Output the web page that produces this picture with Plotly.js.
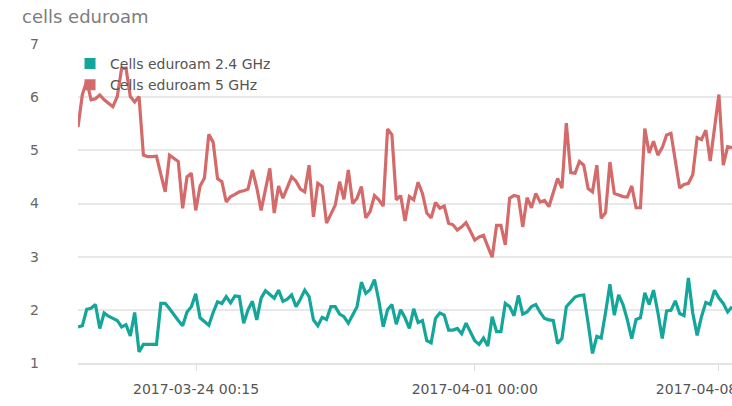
<!DOCTYPE html>
<html>
<head>
<meta charset="utf-8">
<script src="https://cdn.plot.ly/plotly-3.0.1.min.js"></script>
<style>html,body{margin:0;padding:0;background:#fff;}#chart{width:732px;height:406px;}</style>
</head>
<body>
<div id="chart"></div>
<script>
// Series: 3-hourly samples starting 2017-03-20 15:00
const seriesStart = '2017-03-20T15:00:00Z';
const stepHours = 3;
const seriesNames = ['Cells eduroam 2.4 GHz', 'Cells eduroam 5 GHz'];
const seriesColors = ['#14a69b', '#d46a6a'];

const cells24 = [
1.68,1.70,2.01,2.03,2.10,1.65,1.94,1.88,1.84,1.80,
1.68,1.72,1.51,1.95,1.21,1.35,1.35,1.35,1.35,2.12,
2.12,2.02,1.90,1.80,1.70,1.96,2.06,2.30,1.85,1.78,
1.71,1.95,2.15,2.12,2.25,2.13,2.26,2.25,1.75,2.00,
2.16,1.81,2.22,2.36,2.28,2.22,2.37,2.16,2.20,2.28,
2.06,2.20,2.37,2.25,1.81,1.70,1.86,1.82,2.06,2.06,
1.92,1.87,1.75,1.92,2.06,2.52,2.31,2.38,2.57,2.17,
1.68,2.00,2.10,1.73,2.00,1.85,1.65,2.02,1.76,1.80,
1.42,1.38,1.84,1.94,1.90,1.62,1.62,1.65,1.55,1.75,
1.59,1.42,1.35,1.47,1.32,1.87,1.59,1.59,2.12,2.06,
1.89,2.27,1.92,1.96,2.06,2.10,1.95,1.84,1.81,1.80,
1.37,1.46,2.06,2.16,2.24,2.27,2.28,1.75,1.18,1.50,
1.47,1.95,2.48,1.90,2.28,2.10,1.81,1.46,1.82,1.85,
2.32,2.10,2.37,1.95,1.46,1.98,1.99,2.17,1.93,1.89,
2.60,1.94,1.52,1.87,2.14,2.10,2.37,2.22,2.12,1.96,
2.06
];

const cells5 = [
5.44,6.05,6.30,5.95,5.97,6.04,5.95,5.88,5.82,6.01,
6.54,6.55,6.01,5.91,6.01,4.91,4.88,4.88,4.89,4.55,
4.22,4.91,4.85,4.79,3.91,4.50,4.57,3.87,4.33,4.48,
5.30,5.15,4.47,4.41,4.03,4.13,4.17,4.22,4.24,4.27,
4.63,4.30,3.87,4.25,4.66,3.82,4.33,4.10,4.30,4.50,
4.42,4.27,4.22,4.72,3.75,4.38,4.32,3.63,3.80,3.97,
4.41,4.08,4.63,4.00,4.10,4.32,3.73,3.85,4.15,4.07,
3.95,5.40,5.29,4.07,4.15,3.67,4.13,4.07,4.40,4.19,
3.82,3.73,4.02,3.91,3.95,3.63,3.60,3.50,3.56,3.64,
3.48,3.31,3.37,3.40,3.19,2.99,3.59,3.59,3.22,4.10,
4.15,4.13,3.56,4.11,3.92,4.19,4.03,4.06,3.94,4.20,
4.47,4.29,5.51,4.58,4.57,4.79,4.72,4.28,4.22,4.72,
3.72,3.83,4.78,4.19,4.16,4.13,4.12,4.33,3.92,3.92,
5.41,4.95,5.17,4.91,5.05,5.29,5.32,4.76,4.29,4.36,
4.38,4.54,5.24,5.20,5.38,4.80,5.45,6.05,4.72,5.07,
5.05
];

const xTickDates = ['2017-03-24 00:15:00', '2017-04-01 00:00:00', '2017-04-08 00:00:00'];
const xTickLabels = ['2017-03-24 00:15', '2017-04-01 00:00', '2017-04-08 00:00'];
const yTickValues = [1, 2, 3, 4, 5, 6, 7];

function fmt(d) { return d.toISOString().slice(0, 19).replace('T', ' '); }
const t0 = new Date(seriesStart).getTime();
const times = cells24.map((_, i) => fmt(new Date(t0 + i * stepHours * 3600000)));

const FONT = '"DejaVu Sans", sans-serif';

const traces = [
  {x: times, y: cells24, type: 'scatter', mode: 'lines', name: seriesNames[0],
   line: {color: seriesColors[0], width: 3.2}, showlegend: false, hoverinfo: 'x+y'},
  {x: times, y: cells5, type: 'scatter', mode: 'lines', name: seriesNames[1],
   line: {color: seriesColors[1], width: 3.2}, showlegend: false, hoverinfo: 'x+y'},
  {x: [null], y: [null], type: 'scatter', mode: 'markers', name: seriesNames[0],
   marker: {symbol: 'square', size: 11, color: seriesColors[0]}},
  {x: [null], y: [null], type: 'scatter', mode: 'markers', name: seriesNames[1],
   marker: {symbol: 'square', size: 11, color: seriesColors[1]}}
];

const layout = {
  width: 732, height: 406,
  margin: {l: 78, r: 0, t: 44, b: 43, pad: 0},
  paper_bgcolor: '#ffffff', plot_bgcolor: '#ffffff',
  font: {family: FONT, color: '#666'},
  title: {text: 'cells eduroam', x: 22 / 732, xref: 'container', xanchor: 'left',
          y: 1 - 17 / 406, yref: 'container', yanchor: 'middle',
          font: {family: FONT, size: 18, color: '#7d7d7d'}},
  showlegend: true,
  legend: {x: -0.0122, xanchor: 'left', y: 0.988, yanchor: 'top',
           bgcolor: 'rgba(255,255,255,0)', borderwidth: 0,
           font: {family: FONT, size: 14, color: '#555'},
           tracegroupgap: 0, itemwidth: 30},
  xaxis: {type: 'date', range: [times[0], times[times.length - 1]],
          tickmode: 'array', tickvals: xTickDates, ticktext: xTickLabels,
          showgrid: false, zeroline: false, showline: true, linecolor: '#e3e3e3', linewidth: 2,
          ticks: 'outside', ticklen: 6, tickcolor: '#dcdcdc', tickwidth: 1,
          ticklabelstandoff: 6, ticklabeloverflow: 'allow',
          tickfont: {family: FONT, size: 14, color: '#555'}},
  yaxis: {range: [1, 7], tickmode: 'array', tickvals: yTickValues,
          showgrid: true, gridcolor: '#e8e8e8', gridwidth: 2, zeroline: false, showline: false,
          ticks: '', ticklabelstandoff: 38,
          tickfont: {family: FONT, size: 14, color: '#666'}}
};

Plotly.newPlot('chart', traces, layout, {displayModeBar: false, staticPlot: true});
</script>
</body>
</html>
